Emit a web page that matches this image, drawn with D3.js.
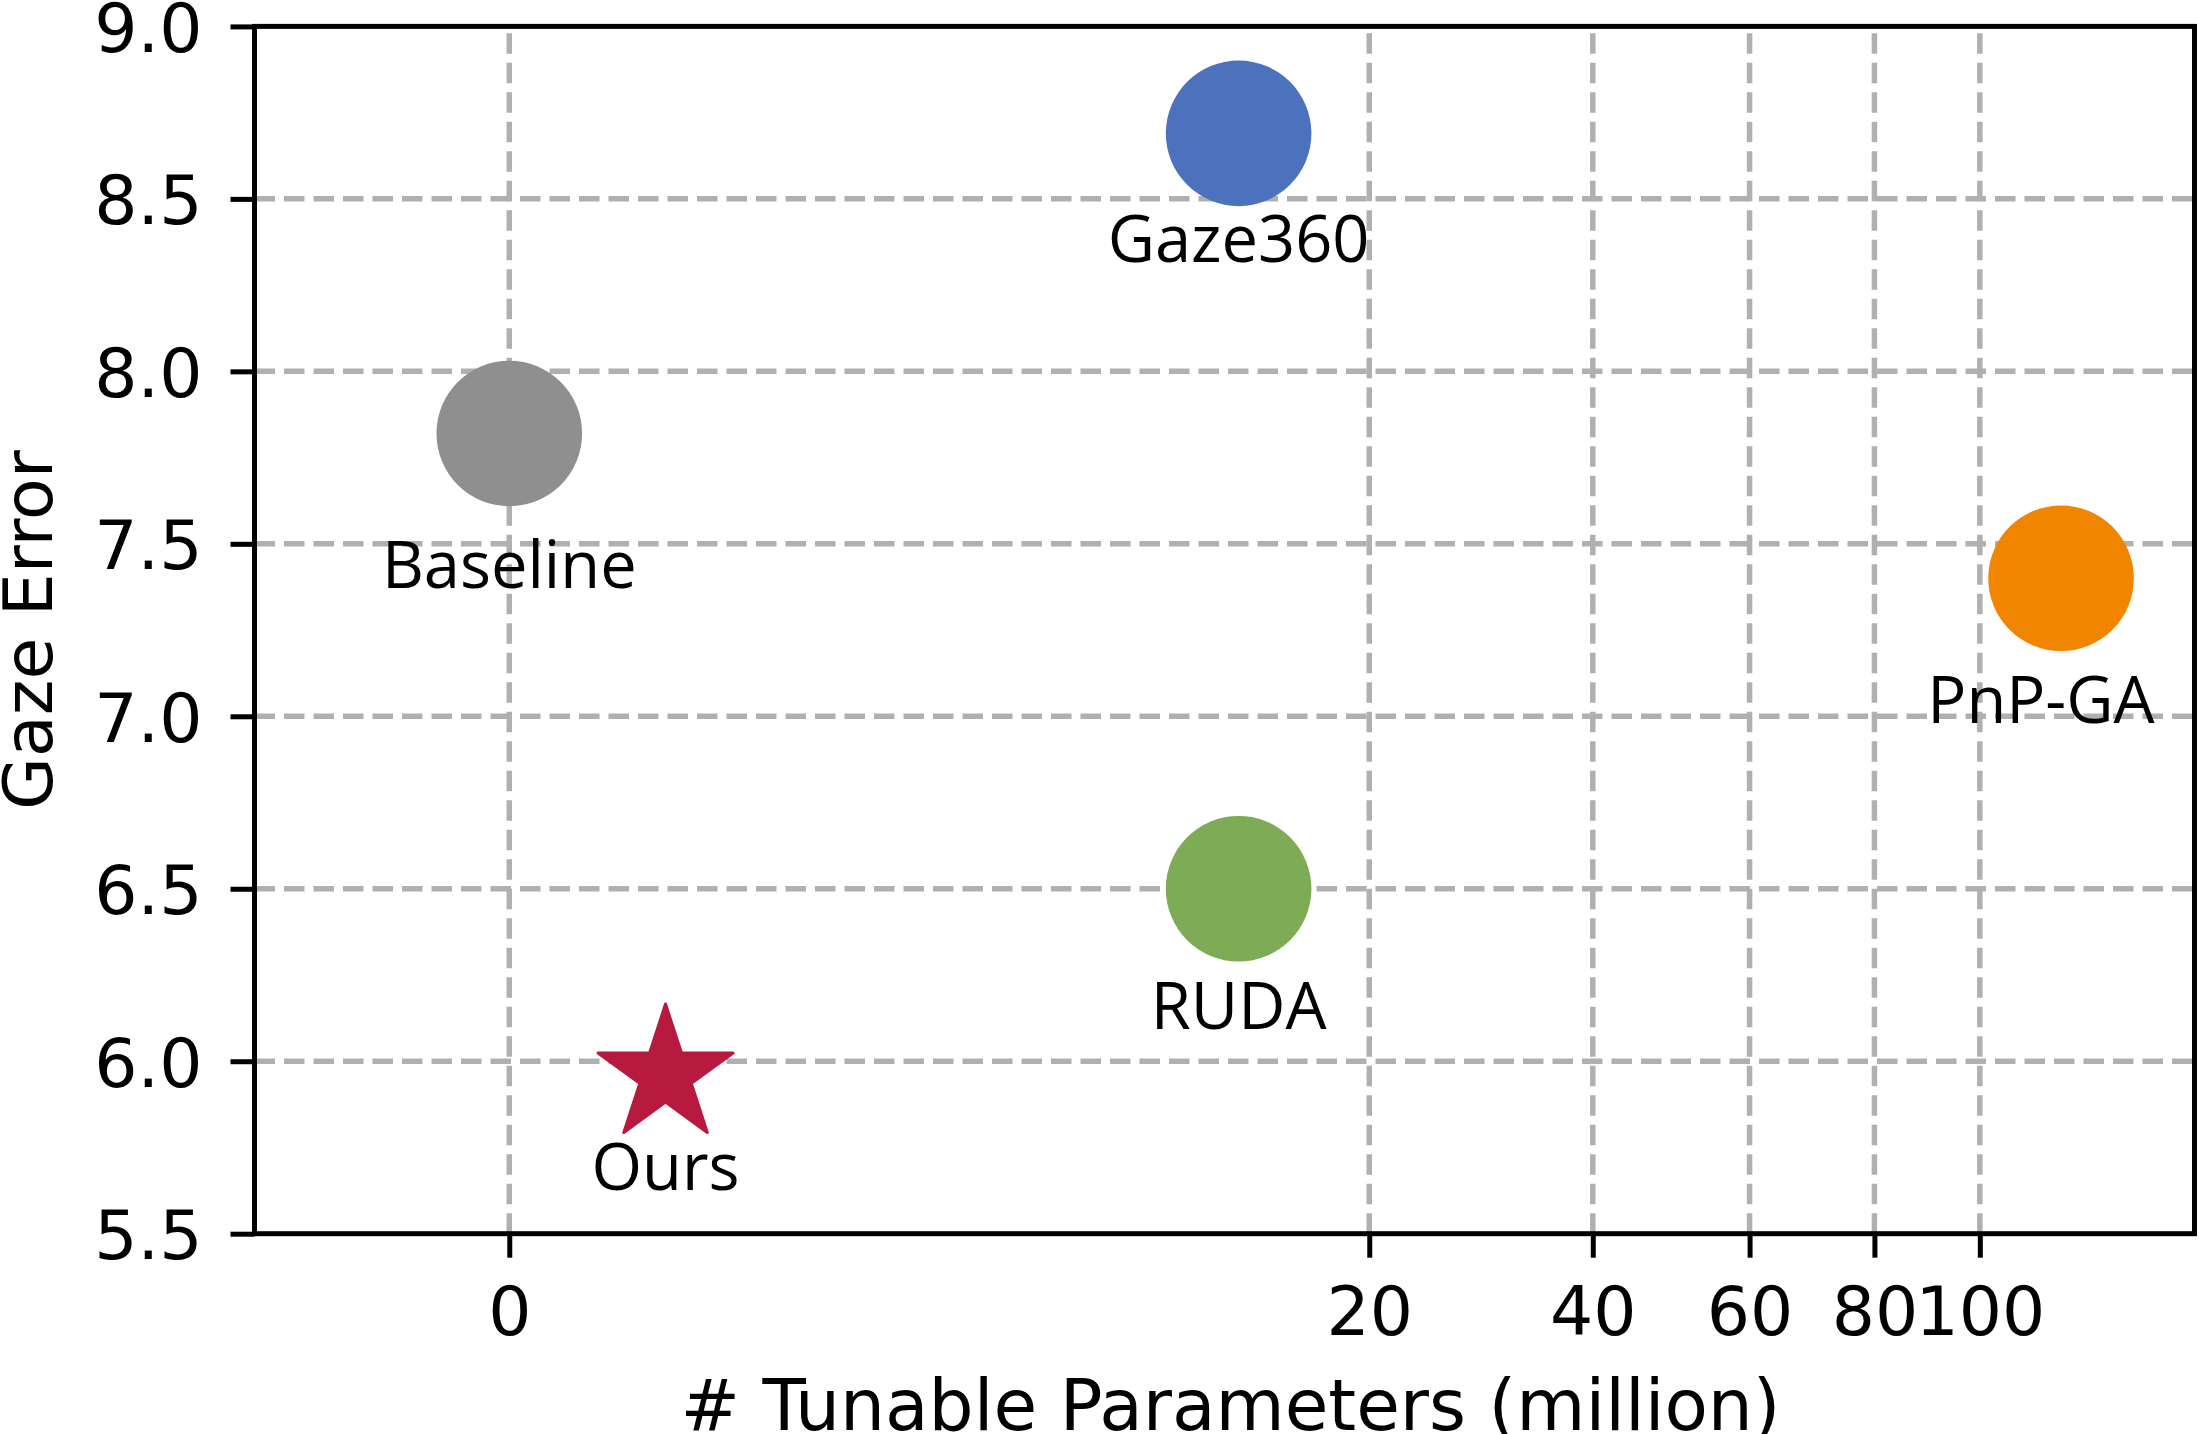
<!DOCTYPE html>
<html>
<head>
<meta charset="utf-8">
<script src="https://cdn.jsdelivr.net/npm/d3@7/dist/d3.min.js"></script>
<style>
  html, body { margin: 0; padding: 0; background: #ffffff; }
  svg { display: block; }
</style>
</head>
<body>
<svg id="chart" width="2199" height="1434"></svg>
<script>
// ---- data ----
const methods     = ["Baseline", "Ours", "Gaze360", "RUDA", "PnP-GA"];
const params      = [0, 0.12, 12.2, 12.2, 117.5];      // # tunable parameters (million)
const gazeError   = [7.82, 5.96, 8.69, 6.50, 7.40];     // gaze error
const markerKinds = ["circle", "star", "circle", "circle", "circle"];
const colors      = ["#8f8f8f", "#b8193f", "#4d72bd", "#7eab55", "#f28500"];
const labelX      = [0, 0.12, 12.2, 12.2, 113];         // label anchor (data units)
const labelY      = [7.371, 5.626, 8.318, 6.092, 6.981];
const xTicks      = [0, 20, 40, 60, 80, 100];
const yTicks      = [5.5, 6.0, 6.5, 7.0, 7.5, 8.0, 8.5, 9.0];
const xDomain     = [-0.52, 150.5];
const yDomain     = [5.5, 9.0];
const xTitle      = "# Tunable Parameters (million)";
const yTitle      = "Gaze Error";

// ---- layout ----
const L = 254.5, R = 2194.5, T = 26.4, B = 1233.7;
const svg = d3.select("#chart");

const x = d3.scalePow().exponent(1 / 3).domain(xDomain).range([L, R]);
const y = d3.scaleLinear().domain(yDomain).range([B, T]);

const tickFont = "DejaVu Sans, sans-serif";
const annFont  = "'Open Sans', sans-serif";

// grid
const grid = svg.append("g");
grid.selectAll("line.h").data(yTicks.filter(v => v > yDomain[0] && v < yDomain[1]))
  .enter().append("line")
  .attr("x1", L).attr("x2", R)
  .attr("y1", d => y(d)).attr("y2", d => y(d))
  .attr("stroke", "#b0b0b0").attr("stroke-width", 5.5)
  .attr("stroke-dasharray", "20.5,9");
grid.selectAll("line.v").data(xTicks)
  .enter().append("line")
  .attr("x1", d => x(d)).attr("x2", d => x(d))
  .attr("y1", B).attr("y2", T)
  .attr("stroke", "#b0b0b0").attr("stroke-width", 5.5)
  .attr("stroke-dasharray", "20.5,9");

// markers
const pts = methods.map((m, i) => ({
  name: m, px: params[i], gy: gazeError[i], kind: markerKinds[i], color: colors[i],
  lx: labelX[i], ly: labelY[i]
}));

const marks = svg.append("g");
marks.selectAll("circle").data(pts.filter(d => d.kind === "circle"))
  .enter().append("circle")
  .attr("cx", d => x(d.px)).attr("cy", d => y(d.gy))
  .attr("r", 72.8)
  .attr("fill", d => d.color);

// star (matplotlib '*' style: inner/outer ratio 0.382)
const starR = 71, starInner = starR * 0.381966;
const starPts = d3.range(10).map(k => {
  const a = Math.PI / 2 + k * Math.PI / 5;
  const r = k % 2 === 0 ? starR : starInner;
  return [r * Math.cos(a), -r * Math.sin(a)];
});
marks.selectAll("path.star").data(pts.filter(d => d.kind === "star"))
  .enter().append("path")
  .attr("class", "star")
  .attr("d", d3.line()(starPts) + "Z")
  .attr("transform", d => `translate(${x(d.px)},${y(d.gy)})`)
  .attr("fill", d => d.color)
  .attr("stroke", d => d.color)
  .attr("stroke-width", 3)
  .attr("stroke-linejoin", "round");

// labels
svg.append("g").selectAll("text").data(pts).enter().append("text")
  .attr("x", d => x(d.lx)).attr("y", d => y(d.ly))
  .attr("text-anchor", "middle")
  .attr("font-family", annFont).attr("font-size", 65)
  .attr("fill", "#000")
  .text(d => d.name);

// axes
const xAxis = d3.axisBottom(x).tickValues(xTicks).tickFormat(d3.format("d"))
  .tickSize(24).tickPadding(0);
const gx = svg.append("g").attr("transform", `translate(0,${B})`).call(xAxis);
gx.select(".domain").remove();
gx.selectAll(".tick line").attr("stroke", "#000").attr("stroke-width", 5);
gx.selectAll(".tick text")
  .attr("font-family", tickFont).attr("font-size", 68).attr("fill", "#000")
  .attr("y", 101).attr("dy", 0);

const yAxis = d3.axisLeft(y).tickValues(yTicks).tickFormat(d3.format(".1f"))
  .tickSize(24).tickPadding(0);
const gy = svg.append("g").attr("transform", `translate(${L},0)`).call(yAxis);
gy.select(".domain").remove();
gy.selectAll(".tick line").attr("stroke", "#000").attr("stroke-width", 5);
gy.selectAll(".tick text")
  .attr("font-family", tickFont).attr("font-size", 68).attr("fill", "#000")
  .attr("x", -52).attr("dy", 0).attr("y", 24.8);

// spines
svg.append("rect")
  .attr("x", L).attr("y", T).attr("width", R - L).attr("height", B - T)
  .attr("fill", "none").attr("stroke", "#000").attr("stroke-width", 5);

// axis titles
svg.append("text")
  .attr("x", (L + R) / 2 + 6).attr("y", 1430)
  .attr("text-anchor", "middle")
  .attr("font-family", tickFont).attr("font-size", 71).attr("fill", "#000")
  .text(xTitle);

svg.append("text")
  .attr("transform", `translate(52,${(T + B) / 2}) rotate(-90)`)
  .attr("text-anchor", "middle")
  .attr("font-family", tickFont).attr("font-size", 68).attr("fill", "#000")
  .text(yTitle);
</script>
</body>
</html>
